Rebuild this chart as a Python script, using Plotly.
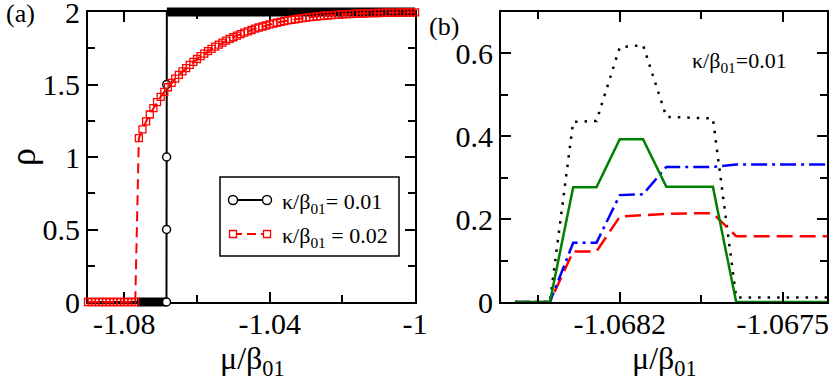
import plotly.graph_objects as go

W, H = 830, 381

# ---- panel (a): rho vs mu/beta01 ----
# kappa/beta01 = 0.01 (sharp step)
mu_k1 = [-1.0900, -1.0767, -1.0684, -1.06838, -1.06836, -1.06834, -1.0683, -1.0000]
rho_k1 = [0, 0, 0, 0.5, 1.0, 1.5, 2.0, 2.0]
# open circles that stay visible on the step
mu_k1_pts = [-1.0684, -1.06838, -1.06836, -1.06834]
rho_k1_pts = [0, 0.5, 1.0, 1.5]
# densely sampled stretches (markers merge into a solid band)
mu_k1_band_lo = [-1.0765, -1.0684]
rho_k1_band_lo = [0, 0]
mu_k1_band_hi = [-1.0683, -1.0000]
rho_k1_band_hi = [2, 2]

# kappa/beta01 = 0.02
mu_k2 = [-1.090, -1.089, -1.088, -1.087, -1.086, -1.085, -1.084, -1.083, -1.082,
         -1.081, -1.080, -1.079, -1.078, -1.077,
         -1.076, -1.075, -1.074, -1.073, -1.072, -1.071, -1.070, -1.069, -1.068,
         -1.067, -1.066, -1.065, -1.064, -1.063, -1.062, -1.061, -1.060, -1.059,
         -1.058, -1.057, -1.056, -1.055, -1.054, -1.053, -1.052, -1.051, -1.050,
         -1.049, -1.048, -1.047, -1.046, -1.045, -1.044, -1.043, -1.042, -1.041,
         -1.040, -1.039, -1.038, -1.037, -1.036, -1.035, -1.034, -1.033, -1.032,
         -1.031, -1.030, -1.029, -1.028, -1.027, -1.026, -1.025, -1.024, -1.023,
         -1.022, -1.021, -1.020, -1.019, -1.018, -1.017, -1.016, -1.015, -1.014,
         -1.013, -1.012, -1.011, -1.010, -1.009, -1.008, -1.007, -1.006, -1.005,
         -1.004, -1.003, -1.002, -1.001, -1.000]
rho_k2 = [0, 0, 0, 0, 0, 0, 0, 0, 0, 0, 0, 0, 0, 0,
          1.130, 1.190, 1.245, 1.293, 1.337, 1.378, 1.415, 1.449, 1.481,
          1.511, 1.540, 1.566, 1.590, 1.613, 1.635, 1.656, 1.676, 1.695,
          1.713, 1.730, 1.746, 1.761, 1.775, 1.789, 1.802, 1.814, 1.826,
          1.837, 1.848, 1.858, 1.867, 1.876, 1.885, 1.893, 1.900, 1.907,
          1.914, 1.920, 1.926, 1.932, 1.937, 1.942, 1.946, 1.950, 1.954,
          1.958, 1.961, 1.964, 1.967, 1.970, 1.972, 1.974, 1.976, 1.978,
          1.980, 1.982, 1.983, 1.985, 1.986, 1.987, 1.988, 1.989, 1.990,
          1.991, 1.992, 1.993, 1.993, 1.994, 1.995, 1.995, 1.996, 1.996,
          1.997, 1.997, 1.998, 1.998, 1.998]

# ---- panel (b): zoom around the transition, kappa/beta01 = 0.01 ----
mu_b = [-1.06865, -1.0685, -1.0684, -1.0683, -1.0682, -1.0681, -1.0680,
        -1.0679, -1.0678, -1.0677, -1.0676, -1.0675, -1.0674, -1.0673]
rho_b_dot = [0, 0, 0.435, 0.437, 0.615, 0.620, 0.447, 0.445, 0.443, 0.011, 0.011, 0.011, 0.011, 0.011]
rho_b_dash = [0, 0, 0.122, 0.122, 0.206, 0.209, 0.213, 0.214, 0.214, 0.159, 0.159, 0.159, 0.159, 0.159]
rho_b_dashdot = [0, 0, 0.143, 0.143, 0.258, 0.260, 0.326, 0.326, 0.326, 0.332, 0.332, 0.332, 0.332, 0.332]
rho_b_solid = [0, 0, 0.277, 0.277, 0.393, 0.393, 0.278, 0.278, 0.278, 0, 0, 0, 0, 0]

# ticks
xa_ticks = [-1.08, -1.04, -1.0]
xa_labels = ["-1.08", "-1.04", "-1"]
xa_minor = [-1.06, -1.02]
ya_ticks = [0, 0.5, 1, 1.5, 2]
ya_labels = ["0", "0.5", "1", "1.5", "2"]
ya_minor = [0.25, 0.75, 1.25, 1.75]
xb_ticks = [-1.0682, -1.0675]
xb_labels = ["-1.0682", "-1.0675"]
xb_minor = [-1.06855, -1.06785]
yb_ticks = [0, 0.2, 0.4, 0.6]
yb_labels = ["0", "0.2", "0.4", "0.6"]
yb_minor = [0.1, 0.3, 0.5]

FONT = "Liberation Serif"

# panel a plot area in pixels
AX0, AX1, AY0, AY1 = 88, 415, 12, 302
PAD = 8  # extra room so marks at rho=0 and rho=2 are not cut by the frame


def px(x):
    return x / W


def py(y):
    return 1 - y / H


fig = go.Figure()

# panel (a): the visible frame is x/y; the curves go on a hidden, slightly taller
# copy of the same scale (x3/y3) so the thick bands on the frame are not clipped
fig.add_trace(go.Scatter(x=[], y=[], xaxis="x", yaxis="y", showlegend=False))
band_kw = dict(mode="lines", line=dict(color="black", width=9),
               xaxis="x3", yaxis="y3", showlegend=False, hoverinfo="skip")
fig.add_trace(go.Scatter(x=mu_k1_band_lo, y=rho_k1_band_lo, **band_kw))
fig.add_trace(go.Scatter(x=mu_k1_band_hi, y=rho_k1_band_hi, **band_kw))
fig.add_trace(go.Scatter(x=mu_k1, y=rho_k1, mode="lines",
                         line=dict(color="black", width=2),
                         xaxis="x3", yaxis="y3", showlegend=False))
fig.add_trace(go.Scatter(x=mu_k1_pts, y=rho_k1_pts, mode="markers",
                         marker=dict(symbol="circle", size=8, color="white",
                                     line=dict(color="black", width=1.5)),
                         cliponaxis=False, xaxis="x3", yaxis="y3", showlegend=False))
fig.add_trace(go.Scatter(x=mu_k2, y=rho_k2, mode="lines+markers",
                         line=dict(color="red", width=2, dash="10px,6px"),
                         marker=dict(symbol="square-open", size=7, color="red",
                                     line=dict(color="red", width=1.3)),
                         cliponaxis=False, xaxis="x3", yaxis="y3", showlegend=False))

# panel (b)
fig.add_trace(go.Scatter(x=mu_b, y=rho_b_dot, mode="lines",
                         line=dict(color="black", width=2.5, dash="2.5px,7px"),
                         xaxis="x2", yaxis="y2", showlegend=False))
fig.add_trace(go.Scatter(x=mu_b, y=rho_b_dash, mode="lines",
                         line=dict(color="red", width=2.5, dash="16px,7px"),
                         xaxis="x2", yaxis="y2", showlegend=False))
fig.add_trace(go.Scatter(x=mu_b, y=rho_b_dashdot, mode="lines",
                         line=dict(color="blue", width=2.5, dash="16px,5px,3px,5px"),
                         xaxis="x2", yaxis="y2", showlegend=False))
fig.add_trace(go.Scatter(x=mu_b, y=rho_b_solid, mode="lines",
                         line=dict(color="green", width=2.5),
                         xaxis="x2", yaxis="y2", showlegend=False))

axis_style = dict(showline=True, linecolor="black", linewidth=2, mirror="allticks",
                  ticks="inside", ticklen=10, tickwidth=2, tickcolor="black",
                  showgrid=False, zeroline=False, tickmode="array",
                  ticklabeloverflow="allow", automargin=False,
                  tickfont=dict(family=FONT, size=30, color="black"))


def minor(vals):
    return dict(tickmode="array", tickvals=vals, ticks="inside", ticklen=7,
                tickwidth=2, tickcolor="black", showgrid=False)


xa_range = [-1.09, -1.0]
ya_range = [0, 2]
ya_span = (ya_range[1] - ya_range[0]) / (AY1 - AY0)  # data units per pixel
hidden = dict(visible=False, showgrid=False, zeroline=False, fixedrange=True, automargin=False)

fig.update_layout(
    width=W, height=H, margin=dict(l=0, r=0, t=0, b=0, autoexpand=False),
    paper_bgcolor="white", plot_bgcolor="rgba(0,0,0,0)",
    font=dict(family=FONT, color="black"),
    xaxis=dict(axis_style, domain=[px(AX0), px(AX1)], range=xa_range, anchor="y",
               tickvals=xa_ticks, ticktext=xa_labels, minor=minor(xa_minor),
               ticklabelstandoff=-6),
    yaxis=dict(axis_style, domain=[py(AY1), py(AY0)], range=ya_range, anchor="x",
               tickvals=ya_ticks, ticktext=ya_labels, minor=minor(ya_minor)),
    xaxis2=dict(axis_style, domain=[px(501), px(827)], range=[-1.06871, -1.06731], anchor="y2",
                tickvals=xb_ticks, ticktext=xb_labels, minor=minor(xb_minor),
                ticklabelstandoff=-6),
    yaxis2=dict(axis_style, domain=[py(302), py(12)], range=[0, 0.7], anchor="x2",
                tickvals=yb_ticks, ticktext=yb_labels, minor=minor(yb_minor)),
    xaxis3=dict(hidden, domain=[px(AX0), px(AX1)], range=xa_range, anchor="y3"),
    yaxis3=dict(hidden, domain=[py(AY1 + PAD), py(AY0 - PAD)], anchor="x3",
                range=[ya_range[0] - PAD * ya_span, ya_range[1] + PAD * ya_span]),
)

# legend of panel (a), drawn by hand so that markers sit at both ends of the sample line
shapes = [dict(type="rect", xref="paper", yref="paper", x0=px(220), x1=px(399),
               y0=py(256), y1=py(177), line=dict(color="black", width=1.5), fillcolor="white")]
shapes.append(dict(type="line", xref="paper", yref="paper", x0=px(233), x1=px(267),
                   y0=py(200), y1=py(200), line=dict(color="black", width=2)))
shapes.append(dict(type="line", xref="paper", yref="paper", x0=px(233), x1=px(267),
                   y0=py(234), y1=py(234), line=dict(color="red", width=2, dash="9px,5px")))
for cx in (233, 267):
    shapes.append(dict(type="circle", xref="paper", yref="paper", x0=px(cx - 4.5), x1=px(cx + 4.5),
                       y0=py(204.5), y1=py(195.5), line=dict(color="black", width=1.5),
                       fillcolor="white"))
    shapes.append(dict(type="rect", xref="paper", yref="paper", x0=px(cx - 3.5), x1=px(cx + 3.5),
                       y0=py(237.5), y1=py(230.5), line=dict(color="red", width=1.3),
                       fillcolor="white"))
fig.update_layout(shapes=shapes)

annotations = [
    dict(text="(a)", x=px(20), y=py(14), size=26),
    dict(text="(b)", x=px(444), y=py(26), size=26),
    dict(text="ρ", x=px(23), y=py(157), size=36, textangle=-90),
    dict(text="μ/β<sub>01</sub>", x=px(252), y=py(360), size=32),
    dict(text="μ/β<sub>01</sub>", x=px(664), y=py(360), size=32),
]
anns = []
for a in annotations:
    anns.append(dict(text=a["text"], x=a["x"], y=a["y"], xref="paper", yref="paper",
                     showarrow=False, xanchor="center", yanchor="middle",
                     textangle=a.get("textangle", 0),
                     font=dict(family=FONT, color="black", size=a["size"])))
for txt, x, y in [("κ/β<sub>01</sub>= 0.01", 280, 203),
                  ("κ/β<sub>01</sub> = 0.02", 280, 237),
                  ("κ/β<sub>01</sub>=0.01", 690, 62)]:
    anns.append(dict(text=txt, x=px(x), y=py(y), xref="paper", yref="paper",
                     showarrow=False, xanchor="left", yanchor="middle",
                     font=dict(family=FONT, color="black", size=22)))
fig.update_layout(annotations=anns)

# the page body has a default 8px margin; drop it so the figure fills the window
fig.write_html("out.html", config={"displayModeBar": False},
               post_script="document.body.style.margin = '0';")
